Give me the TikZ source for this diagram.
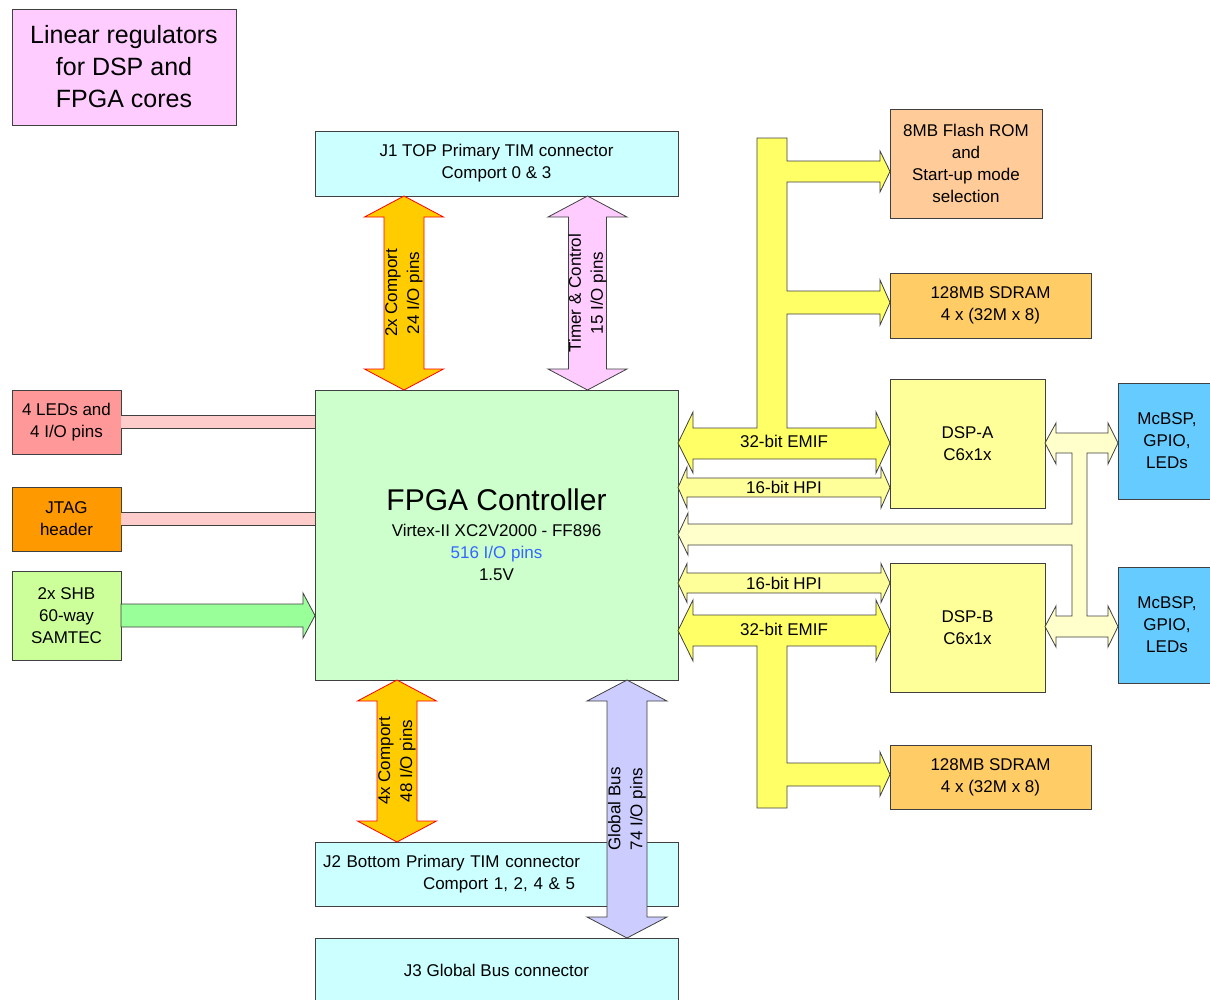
\documentclass[tikz,border=0pt]{standalone}
\usepackage{fontspec}
\setmainfont{Liberation Sans}
\usetikzlibrary{calc}

\definecolor{edgegray}{HTML}{404040}
\definecolor{regpink}{HTML}{FFCCFF}
\definecolor{conncyan}{HTML}{CCFFFF}
\definecolor{fpgagreen}{HTML}{CCFFCC}
\definecolor{ledred}{HTML}{FF9999}
\definecolor{ledbar}{HTML}{FFCCCC}
\definecolor{jtagorange}{HTML}{FF9900}
\definecolor{shbgreen}{HTML}{CCFF99}
\definecolor{shbarrow}{HTML}{99FF99}
\definecolor{flashorange}{HTML}{FFCC99}
\definecolor{sdramorange}{HTML}{FFCC66}
\definecolor{dspyellow}{HTML}{FFFF99}
\definecolor{mcbspblue}{HTML}{66CCFF}
\definecolor{emifyellow}{HTML}{FFFF66}
\definecolor{serialyellow}{HTML}{FFFFCC}
\definecolor{comportorange}{HTML}{FFCC00}
\definecolor{globallilac}{HTML}{CCCCFF}
\definecolor{pinblue}{HTML}{3366FF}

\newcommand{\txt}{\fontsize{17}{22}\selectfont}

% fat double headed bus: style, from, to, half shaft, half head, head length
\newcommand{\bidir}[6]{%
  \coordinate (ha) at ($(#2)!#6!(#3)$);
  \coordinate (hb) at ($(#3)!#6!(#2)$);
  \draw[#1] (#2) -- ($(ha)!#5!90:(#3)$) -- ($(ha)!#4!90:(#3)$)
    -- ($(hb)!#4!-90:(#2)$) -- ($(hb)!#5!-90:(#2)$) -- (#3)
    -- ($(hb)!#5!90:(#2)$) -- ($(hb)!#4!90:(#2)$)
    -- ($(ha)!#4!-90:(#3)$) -- ($(ha)!#5!-90:(#3)$) -- cycle;}
% fat single headed bus, same arguments
\newcommand{\onebus}[6]{%
  \coordinate (hb) at ($(#3)!#6!(#2)$);
  \draw[#1] ($(#2)!#4!90:(#3)$) -- ($(hb)!#4!-90:(#2)$) -- ($(hb)!#5!-90:(#2)$) -- (#3)
    -- ($(hb)!#5!90:(#2)$) -- ($(hb)!#4!90:(#2)$) -- ($(#2)!#4!-90:(#3)$) -- cycle;}

\begin{document}
\begin{tikzpicture}[x=1pt,y=-1pt,
  box/.style 2 args={draw=edgegray, line width=.8pt, inner sep=0pt, outer sep=0pt,
    minimum width=#1pt, minimum height=#2pt, align=center, font=\txt},
  bus/.style={draw=edgegray, line width=.8pt, fill=#1},
  redbus/.style={draw=red, line width=.8pt, fill=#1},
  buslabel/.style={font=\txt, align=center, inner sep=0pt},
  pinbar/.style={draw=edgegray, line width=.8pt, double=ledbar, double distance=12pt}]

  \useasboundingbox (0,0) rectangle (1210,999);

  \node[box={224}{116}, fill=regpink, font=\fontsize{25}{32}\selectfont] (linreg) at (124,67) {Linear regulators\\for DSP and\\FPGA cores};

  \node[box={363}{65}, fill=conncyan] (j1) at (496.5,163.5) {J1 TOP Primary TIM connector\\Comport 0 \& 3};
  \node[box={363}{290}, fill=fpgagreen] (fpga) at (496.5,535) {{\fontsize{30}{30}\selectfont FPGA Controller}\\[4pt]Virtex-II XC2V2000 - FF896\\\textcolor{pinblue}{516 I/O pins}\\1.5V};
  \node[box={363}{64}, fill=conncyan, text width=347pt, align=left, inner xsep=8pt] (j2) at (496.5,874) {J2 Bottom Primary TIM connector\\\hspace*{100pt}Comport 1, 2, 4 \& 5};
  \node[box={363}{64}, fill=conncyan] (j3) at (496.5,970) {J3 Global Bus connector};

  \node[box={109}{64}, fill=ledred] (leds) at (66.5,422) {4 LEDs and\\4 I/O pins};
  \node[box={109}{64}, fill=jtagorange] (jtag) at (66.5,519) {JTAG\\header};
  \node[box={109}{89}, fill=shbgreen] (shb) at (66.5,615.5) {2x SHB\\60-way\\SAMTEC};

  \node[box={152}{109}, fill=flashorange] (flash) at (966,163.5) {8MB Flash ROM\\and\\Start-up mode\\selection};
  \node[box={201}{65}, fill=sdramorange] (sdrama) at (990.5,305.5) {128MB SDRAM\\4 x (32M x 8)};
  \node[box={155}{129}, fill=dspyellow] (dspa) at (967.5,443.5) {DSP-A\\C6x1x};
  \node[box={155}{129}, fill=dspyellow] (dspb) at (967.5,627.5) {DSP-B\\C6x1x};
  \node[box={201}{64}, fill=sdramorange] (sdramb) at (990.5,777) {128MB SDRAM\\4 x (32M x 8)};
  \node[box={98}{116}, fill=mcbspblue] (mcbspa) at (1167,441) {McBSP,\\GPIO,\\LEDs};
  \node[box={98}{116}, fill=mcbspblue] (mcbspb) at (1167,625) {McBSP,\\GPIO,\\LEDs};

  % left side links
  \draw[pinbar] (leds.east) -- (leds.east -| fpga.west);
  \draw[pinbar] (jtag.east) -- (jtag.east -| fpga.west);
  \onebus{bus=shbarrow}{shb.east}{shb.east -| fpga.west}{11.5pt}{22.5pt}{12pt}

  % TIM connectors
  \coordinate (comtop) at ([xshift=-92.5pt]j1.south);
  \coordinate (timtop) at ([xshift=91pt]j1.south);
  \coordinate (combot) at ([xshift=-99.5pt]fpga.south);
  \coordinate (globbot) at ([xshift=130.5pt]fpga.south);
  \bidir{redbus=comportorange}{comtop}{comtop |- fpga.north}{20pt}{39.5pt}{21pt}
  \bidir{bus=regpink}{timtop}{timtop |- fpga.north}{19pt}{39.5pt}{21pt}
  \bidir{redbus=comportorange}{combot}{combot |- j2.north}{20pt}{39.5pt}{21pt}
  \bidir{bus=globallilac}{globbot}{globbot |- j3.north}{20pt}{40pt}{21pt}
  \node[buslabel, rotate=90] (comtoplbl) at ($(comtop)!.5!(comtop |- fpga.north)$) {2x Comport\\24 I/O pins};
  \node[buslabel, rotate=90] (timtoplbl) at ($(timtop)!.5!(timtop |- fpga.north)$) {Timer \& Control\\15 I/O pins};
  \node[buslabel, rotate=90] (combotlbl) at ($(combot)!.5!(combot |- j2.north)$) {4x Comport\\48 I/O pins};
  \node[buslabel, rotate=90] (globbotlbl) at ($(globbot)!.5!(globbot |- j3.north)$) {Global Bus\\74 I/O pins};

  % DSP-A side: EMIF with flash and SDRAM taps, HPI
  \coordinate (emifa) at ([yshift=.5pt]dspa.west);
  \draw[bus=emifyellow] (fpga.east |- emifa) -- (693,412) -- (693,428) -- (757,428) -- (757,138)
    -- (787,138) -- (787,161) -- (880,161) -- (880,151) -- (890,171.5) -- (880,192) -- (880,182)
    -- (787,182) -- (787,291) -- (880,291) -- (880,280) -- (890,302.5) -- (880,325) -- (880,314)
    -- (787,314) -- (787,428) -- (876,428) -- (876,412) -- (emifa) -- (876,473) -- (876,459)
    -- (693,459) -- (693,473) -- cycle;
  \node[buslabel] (emifalbl) at ([yshift=2pt]$(fpga.east |- emifa)!.5!(emifa)$) {32-bit EMIF};
  \coordinate (hpia) at ([yshift=-44pt]dspa.west);
  \bidir{bus=dspyellow}{fpga.east |- hpia}{hpia}{9.5pt}{20.5pt}{9pt}
  \node[buslabel] (hpialbl) at ($(fpga.east |- hpia)!.5!(hpia)$) {16-bit HPI};

  % DSP-B side
  \coordinate (hpib) at ([yshift=44.5pt]dspb.west);
  \bidir{bus=dspyellow}{fpga.east |- hpib}{hpib}{10pt}{19.5pt}{9pt}
  \node[buslabel] (hpiblbl) at ($(fpga.east |- hpib)!.5!(hpib)$) {16-bit HPI};
  \coordinate (emifb) at ([yshift=-3pt]dspb.west);
  \draw[bus=emifyellow] (fpga.east |- emifb) -- (693,600) -- (693,615) -- (876,615) -- (876,600)
    -- (emifb) -- (876,661) -- (876,646) -- (787,646) -- (787,763) -- (880,763) -- (880,752)
    -- (890,774.5) -- (880,796) -- (880,786) -- (787,786) -- (787,808) -- (757,808) -- (757,646)
    -- (693,646) -- (693,661) -- cycle;
  \node[buslabel] (emifblbl) at ([yshift=1.5pt]$(fpga.east |- emifb)!.5!(emifb)$) {32-bit EMIF};

  % McBSP bus shared by both DSPs and the FPGA
  \draw[bus=serialyellow] (678,534.5) -- (688,513) -- (688,524) -- (1072,524) -- (1072,453)
    -- (1056,453) -- (1056,464) -- (1045,443) -- (1056,423) -- (1056,433) -- (1108,433)
    -- (1108,423) -- (1118,443) -- (1108,464) -- (1108,453) -- (1087,453) -- (1087,616)
    -- (1108,616) -- (1108,606) -- (1118,626.5) -- (1108,647) -- (1108,637) -- (1056,637)
    -- (1056,647) -- (1045,626.5) -- (1056,606) -- (1056,616) -- (1072,616) -- (1072,545)
    -- (688,545) -- (688,555) -- cycle;

\end{tikzpicture}
\end{document}
